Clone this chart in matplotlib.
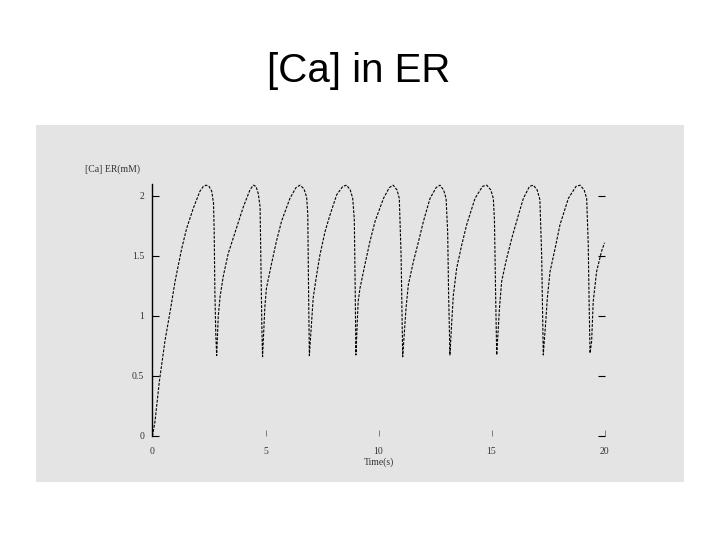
#!/usr/bin/env python3

import numpy as np
import matplotlib
matplotlib.use("Agg")
import matplotlib.pyplot as plt
from matplotlib.patches import Rectangle

# Time (s) and [Ca] in ER (mM)
time_s = np.array([
    0.00, 0.11, 0.30, 0.55, 0.80, 1.00, 1.29, 1.51, 1.81, 2.10, 2.25, 2.37, 2.50, 2.62, 2.70, 2.73, 2.76, 2.80, 2.84,
    2.91, 2.99, 3.13, 3.35, 3.73, 4.02, 4.31, 4.46, 4.58, 4.68, 4.76, 4.80, 4.84, 4.87,
    4.97, 5.04, 5.26, 5.48, 5.71, 6.08, 6.35, 6.53, 6.70, 6.82, 6.87, 6.90, 6.94,
    7.04, 7.11, 7.26, 7.41, 7.63, 7.85, 8.15, 8.42, 8.59, 8.75, 8.86, 8.93, 8.97, 9.00,
    9.10, 9.18, 9.40, 9.62, 9.85, 10.22, 10.48, 10.65, 10.82, 10.92, 11.00, 11.07,
    11.22, 11.32, 11.54, 11.77, 11.99, 12.28, 12.55, 12.72, 12.88, 12.99, 13.06, 13.10, 13.16,
    13.24, 13.31, 13.46, 13.68, 13.90, 14.27, 14.60, 14.79, 14.97, 15.08, 15.13, 15.18, 15.23,
    15.35, 15.45, 15.67, 15.90, 16.19, 16.41, 16.68, 16.85, 17.02, 17.14, 17.22, 17.26, 17.29,
    17.41, 17.47, 17.59, 17.81, 18.03, 18.40, 18.74, 18.92, 19.10, 19.21, 19.28, 19.32, 19.36,
    19.43, 19.50, 19.65, 19.87, 20.00,
])
ca_er = np.array([
    0.00, 0.12, 0.45, 0.79, 1.06, 1.29, 1.56, 1.73, 1.90, 2.04, 2.08, 2.09, 2.08, 2.04, 1.94, 1.70, 1.20, 0.85, 0.67,
    1.00, 1.16, 1.33, 1.52, 1.74, 1.91, 2.05, 2.09, 2.08, 2.02, 1.91, 1.40, 0.90, 0.66,
    1.07, 1.23, 1.43, 1.62, 1.79, 1.98, 2.07, 2.09, 2.06, 1.99, 1.85, 1.30, 0.67,
    0.95, 1.15, 1.34, 1.51, 1.70, 1.84, 2.01, 2.08, 2.09, 2.05, 1.98, 1.80, 1.20, 0.675,
    1.12, 1.23, 1.43, 1.62, 1.79, 1.98, 2.07, 2.09, 2.05, 1.98, 1.50, 0.66,
    1.07, 1.26, 1.45, 1.62, 1.79, 1.98, 2.07, 2.09, 2.05, 1.98, 1.70, 1.20, 0.675,
    0.95, 1.17, 1.40, 1.59, 1.76, 1.98, 2.08, 2.09, 2.05, 1.98, 1.80, 1.20, 0.675,
    1.06, 1.29, 1.48, 1.65, 1.84, 1.98, 2.08, 2.09, 2.05, 1.97, 1.50, 1.00, 0.675,
    0.98, 1.15, 1.37, 1.56, 1.76, 1.98, 2.08, 2.09, 2.05, 1.98, 1.60, 1.10, 0.69,
    0.79, 1.12, 1.37, 1.54, 1.61,
])

x_ticks = [0, 5, 10, 15, 20]
y_ticks = [0, 0.5, 1, 1.5, 2]
y_tick_labels = ["0", "0.5", "1", "1.5", "2"]

title = "[Ca] in ER"
y_label = "[Ca] ER(mM)"
x_label = "Time(s)"


def main():
    fig = plt.figure(figsize=(7.2, 5.4), dpi=100)
    fig.patch.set_facecolor("white")

    # grey panel of the pasted picture
    panel_color = "#e4e4e4"
    panel = Rectangle((0.05, 0.1074), 0.9, 0.661, transform=fig.transFigure,
                      facecolor=panel_color, edgecolor="none", zorder=0)
    fig.add_artist(panel)

    fig.text(0.4975, 0.8476, title, ha="center", va="baseline",
             fontsize=29, family="Liberation Sans", color="black")

    ax = fig.add_axes([0.2118, 0.1926, 0.6278, 0.4667])
    ax.set_zorder(2)
    ax.set_facecolor(panel_color)
    ax.plot(time_s, ca_er, color="black", linewidth=0.8, linestyle=(0, (2.5, 1.3)))

    ax.set_xlim(0, 20)
    ax.set_ylim(0, 2.1)
    ax.set_xticks(x_ticks)
    ax.set_yticks(y_ticks)
    ax.set_yticklabels(y_tick_labels)

    for side in ["top", "right", "bottom"]:
        ax.spines[side].set_visible(False)
    ax.spines["left"].set_linewidth(1.0)

    ax.tick_params(axis="y", which="both", direction="in", length=5, width=0.8,
                   left=True, right=True, labelsize=7, labelcolor="#333333", pad=6)
    ax.tick_params(axis="x", which="both", direction="in", length=4, width=0.5,
                   bottom=True, top=False, color="#555555",
                   labelsize=7, labelcolor="#333333", pad=8)
    for lbl in ax.get_xticklabels() + ax.get_yticklabels():
        lbl.set_family("Liberation Serif")

    ax.set_xlabel(x_label, fontsize=7, family="Liberation Serif", color="#333333", labelpad=1)
    fig.text(0.118, 0.687, y_label, ha="left", va="center", zorder=3,
             fontsize=7, family="Liberation Serif", color="#333333")

    plt.savefig("out.png", dpi=100)


if __name__ == "__main__":
    main()
